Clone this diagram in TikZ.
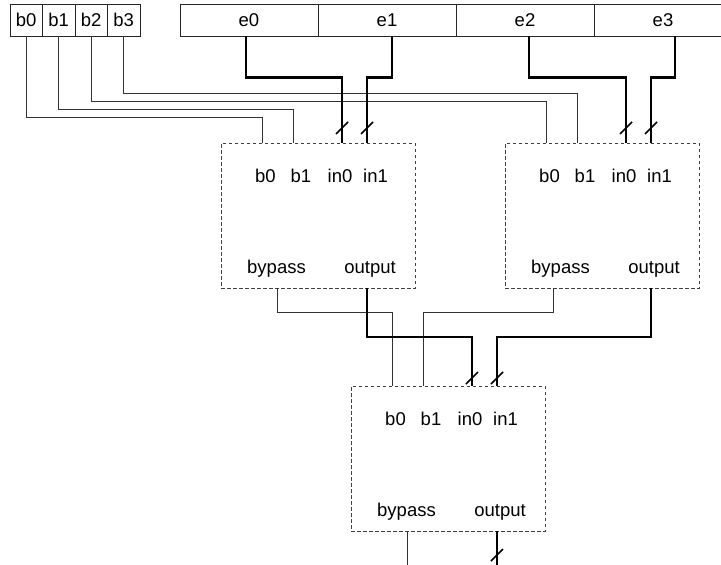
\documentclass[tikz,border=0pt]{standalone}
\usepackage{fontspec}
\setmainfont{Liberation Sans}
\usetikzlibrary{positioning}

\tikzset{
  cell/.style={draw=black!85, line width=0.9pt, minimum height=32pt, inner sep=0pt},
  module/.style={draw=black!75, dash pattern=on 3.5pt off 2.5pt, line width=0.9pt,
    minimum width=194pt, minimum height=145pt, inner sep=0pt},
  pinlabel/.style={anchor=base, inner sep=0pt},
  wire/.style={draw=black!80, line width=1pt},
  bus/.style={draw=black, line width=2.2pt},
  busmark/.style={draw=black, line width=1.5pt},
}

\begin{document}
\begin{tikzpicture}[x=1pt, y=-1pt, font=\fontsize{18.5}{22}\selectfont]
  \useasboundingbox (0,0) rectangle (721,565);

  % bypass bits and elements
  \foreach \i/\x in {0/26.25,1/58.75,2/91.25,3/123.75}
    \node[cell, minimum width=32.5pt] (b\i) at (\x,20) {b\i};
  \foreach \i in {0,...,3}
    \node[cell, minimum width=138pt] (e\i) at (249+138*\i,20) {e\i};

  % modules: name / left / top / bypass pin / mark offset
  \foreach \m/\x/\y/\bp/\s in {m1/221/143/56/15, m2/505/143/48/15, m3/351/386/56/8} {
    \node[module] (\m) at (\x+97,\y+72.5) {};
    \node[pinlabel] (\m-lb0) at (\x+44.5,\y+39) {b0};
    \node[pinlabel] (\m-lb1) at (\x+80,\y+39) {b1};
    \node[pinlabel] (\m-lin0) at (\x+119,\y+39) {in0};
    \node[pinlabel] (\m-lin1) at (\x+154.5,\y+39) {in1};
    \node[pinlabel] (\m-lbp) at (\x+55.5,\y+130) {bypass};
    \node[pinlabel] (\m-lout) at (\x+149,\y+130) {output};
    \coordinate (\m-b0) at (\x+41,\y);
    \coordinate (\m-b1) at (\x+72,\y);
    \coordinate (\m-in0) at (\x+121,\y);
    \coordinate (\m-in1) at (\x+146,\y);
    \coordinate (\m-bp) at (\x+\bp,\y+145);
    \coordinate (\m-out) at (\x+146,\y+145);
    \draw[busmark] ([shift={(-6,6-\s)}]\m-in0) -- ++(12,-12);
    \draw[busmark] ([shift={(-6,6-\s)}]\m-in1) -- ++(12,-12);
  }

  % bit wires
  \draw[wire] (b0.south) -- ++(0,81) -| (m1-b0);
  \draw[wire] (b1.south) -- ++(0,73) -| (m1-b1);
  \draw[wire] (b2.south) -- ++(0,65) -| (m2-b0);
  \draw[wire] (b3.south) -- ++(0,57) -| (m2-b1);

  % element buses
  \draw[bus] ([xshift=-3pt]e0.south) -- ++(0,41) -| (m1-in0);
  \draw[bus] ([xshift=5pt]e1.south) -- ++(0,41) -| (m1-in1);
  \draw[bus] ([xshift=4pt]e2.south) -- ++(0,41) -| (m2-in0);
  \draw[bus] ([xshift=12pt]e3.south) -- ++(0,41) -| (m2-in1);

  % second stage
  \draw[wire] (m1-bp) -- ++(0,24) -| (m3-b0);
  \draw[wire] (m2-bp) -- ++(0,24) -| (m3-b1);
  \draw[bus] (m1-out) -- ++(0,49) -| (m3-in0);
  \draw[bus] (m2-out) -- ++(0,49) -| (m3-in1);

  % results
  \coordinate (res-bp) at (407,566);
  \coordinate (res-out) at (497,566);
  \draw[wire] (m3-bp) -- (res-bp);
  \draw[bus] (m3-out) -- (res-out);
  \draw[busmark] ([shift={(-6,30)}]m3-out) -- ++(12,-12);
\end{tikzpicture}
\end{document}
